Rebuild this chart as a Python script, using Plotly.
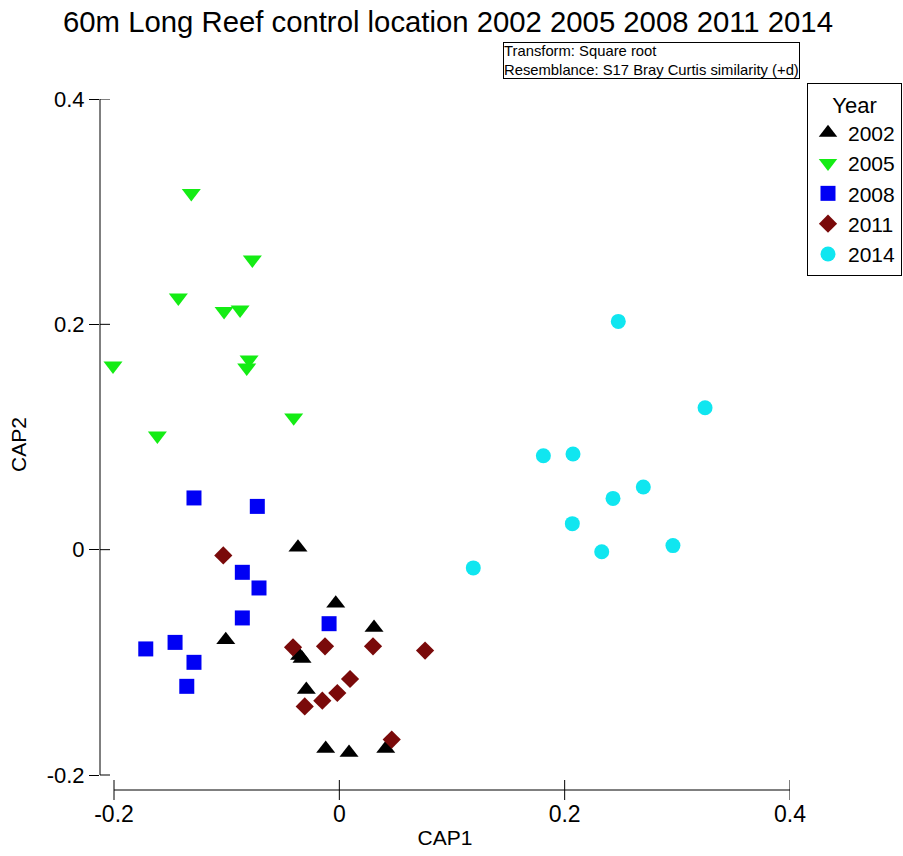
import plotly.graph_objects as go

# CAP ordination scores (CAP1, CAP2) per sampling year
years = ["2002", "2005", "2008", "2011", "2014"]

cap1_2002 = [-0.0367, -0.0032, 0.0308, -0.1008, -0.0353, -0.0331, -0.0293, -0.0121, 0.0086, 0.0412]
cap2_2002 = [0.0020, -0.0477, -0.0692, -0.0801, -0.0941, -0.0967, -0.1243, -0.1766, -0.1802, -0.1766]

cap1_2005 = [-0.1314, -0.0772, -0.1429, -0.1023, -0.0881, -0.2009, -0.0801, -0.0822, -0.0405, -0.1615]
cap2_2005 = [0.3164, 0.2574, 0.2237, 0.2117, 0.2130, 0.1633, 0.1686, 0.1615, 0.1172, 0.1012]

cap1_2008 = [-0.1290, -0.0728, -0.0861, -0.0713, -0.0861, -0.0091, -0.1718, -0.1458, -0.1290, -0.1354]
cap2_2008 = [0.0459, 0.0384, -0.0201, -0.0340, -0.0606, -0.0657, -0.0881, -0.0823, -0.1000, -0.1213]

cap1_2011 = [-0.1030, -0.0411, -0.0127, 0.0299, 0.0761, 0.0095, -0.0018, -0.0151, -0.0307, 0.0465]
cap2_2011 = [-0.0051, -0.0867, -0.0858, -0.0858, -0.0896, -0.1148, -0.1272, -0.1340, -0.1391, -0.1686]

cap1_2014 = [0.2476, 0.3246, 0.1811, 0.2074, 0.2698, 0.2429, 0.2068, 0.2961, 0.2329, 0.1189]
cap2_2014 = [0.2026, 0.1260, 0.0834, 0.0849, 0.0556, 0.0455, 0.0231, 0.0036, -0.0018, -0.0162]

tick_vals = [-0.2, 0, 0.2, 0.4]
tick_text = ["-0.2", "0", "0.2", "0.4"]

FONT = "Liberation Sans, Arial, sans-serif"

series = [
    (years[0], cap1_2002, cap2_2002, "triangle-up", "#000000", 16.5),
    (years[1], cap1_2005, cap2_2005, "triangle-down", "#14EC14", 16.5),
    (years[2], cap1_2008, cap2_2008, "square", "#0000F5", 15),
    (years[3], cap1_2011, cap2_2011, "diamond", "#7A0A0A", 14),
    (years[4], cap1_2014, cap2_2014, "circle", "#10E6F0", 15),
]

fig = go.Figure()
for name, xs, ys, sym, col, sz in series:
    fig.add_trace(go.Scatter(
        x=xs, y=ys, mode="markers", name=name,
        marker=dict(symbol=sym, color=col, size=sz, line=dict(width=0)),
    ))

# plot-area geometry (pixels)
L, R, T, B = 100, 113, 99, 66
W, H = 903, 856
pw, ph = W - L - R, H - T - B
x_lo = -0.2 - 14 / 1126.7
y_lo = -0.2 - 15 / 1126.7

shapes = []
# offset axis lines
shapes.append(dict(type="line", xref="x", yref="paper", x0=-0.2, x1=0.4, y0=0, y1=0,
                   line=dict(color="black", width=1)))
shapes.append(dict(type="line", xref="paper", yref="y", x0=0, x1=0, y0=-0.2, y1=0.4,
                   line=dict(color="black", width=1)))
# crossing ticks: x ticks fully drawn here, y ticks get their inner half
for v in tick_vals:
    shapes.append(dict(type="line", xref="x", yref="paper", x0=v, x1=v,
                       y0=-10 / ph, y1=10 / ph, line=dict(color="black", width=1)))
    shapes.append(dict(type="line", xref="paper", yref="y", x0=0, x1=10 / pw, y0=v, y1=v,
                       line=dict(color="black", width=1)))

fig.update_layout(
    width=W, height=H,
    margin=dict(l=L, r=R, t=T, b=B, autoexpand=False),
    paper_bgcolor="white", plot_bgcolor="white",
    font=dict(family=FONT, color="black"),
    title=dict(text="60m Long Reef control location 2002 2005 2008 2011 2014",
               xref="container", yref="container", x=448 / W, y=1 - 22 / H,
               xanchor="center", yanchor="middle",
               font=dict(size=29.3, family=FONT, color="black")),
    xaxis=dict(range=[x_lo, 0.4], showline=False, showgrid=False, zeroline=False,
               tickmode="array", tickvals=tick_vals, ticktext=tick_text,
               ticks="", ticklabelstandoff=8,
               tickfont=dict(size=23, family=FONT, color="black"),
               title=dict(text="CAP1", font=dict(size=21, family=FONT, color="black"), standoff=4)),
    yaxis=dict(range=[y_lo, 0.4], showline=False, showgrid=False, zeroline=False,
               tickmode="array", tickvals=tick_vals, ticktext=tick_text,
               ticks="outside", ticklen=10, tickwidth=1, tickcolor="black",
               tickfont=dict(size=22, family=FONT, color="black"),
               title=dict(text="CAP2", font=dict(size=21, family=FONT, color="black"), standoff=14)),
    legend=dict(x=(807 - L) / pw, y=1 + (T - 83) / ph, xanchor="left", yanchor="top",
                bordercolor="black", borderwidth=1, bgcolor="white",
                font=dict(size=21, family=FONT, color="black"),
                title=dict(text="Year", side="top center",
                           font=dict(size=22, family=FONT, color="black")),
                itemwidth=30, tracegroupgap=0),
    shapes=shapes,
    annotations=[dict(
        text="Transform: Square root<br>Resemblance: S17 Bray Curtis similarity (+d)",
        xref="paper", yref="paper", x=(503 - L) / pw, y=1 + (T - 42) / ph,
        xanchor="left", yanchor="top", align="left", showarrow=False,
        font=dict(size=14.8, family=FONT, color="black"),
        bordercolor="black", borderwidth=1, borderpad=0, bgcolor="white",
    )],
)

fig.write_html("out.html")
